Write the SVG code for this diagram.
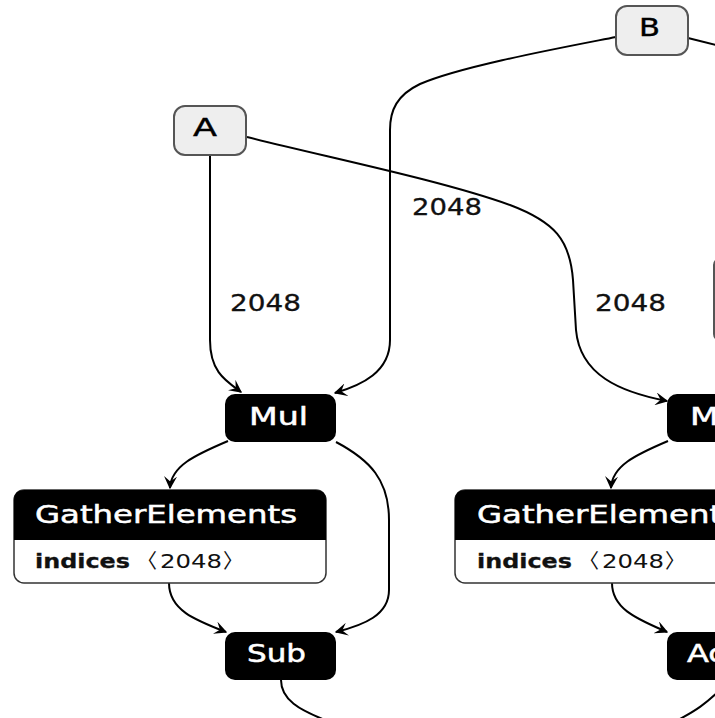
<svg xmlns="http://www.w3.org/2000/svg" width="715" height="718" viewBox="0 0 715 718">
<style>
  .edge { fill: none; stroke: #000; stroke-width: 2; }
  .input { fill: #eeeeee; stroke: #555555; stroke-width: 2; }
  .op { fill: #000000; }
  .title { font-family: "DejaVu Sans", "Noto Sans", sans-serif; font-size: 24px; fill: #ffffff; stroke: #ffffff; stroke-width: 0.5; }
  .ititle { font-family: "DejaVu Sans", "Noto Sans", sans-serif; font-size: 24px; fill: #000000; stroke: #000000; stroke-width: 0.4; }
  .label { font-family: "DejaVu Sans", "Noto Sans", sans-serif; font-size: 23px; fill: #111111; stroke: #111111; stroke-width: 0.3; }
  .attr { font-family: "DejaVu Sans", "Noto Sans", "Noto Sans CJK SC", sans-serif; font-size: 20px; fill: #111111; }
  .body { fill: #ffffff; stroke: #333333; stroke-width: 1.5; }
</style>
<defs>
  <marker id="arrow" viewBox="0 0 10 10" refX="9" refY="5" markerWidth="13" markerHeight="13" markerUnits="userSpaceOnUse" orient="auto">
    <path d="M0,0 L10,5 L0,10 L4,5 z" fill="#000"/>
  </marker>
</defs>
<rect width="715" height="718" fill="#ffffff"/>

<g id="edges">
  <path class="edge" d="M210,155 L210,340 C210,372 226,381 241,392" marker-end="url(#arrow)"/>
  <path class="edge" d="M616,37 C560,48 462,66 420,84 C397,95 390,110 390,130 L390,340 C390,372 362,385 335,393" marker-end="url(#arrow)"/>
  <path class="edge" d="M247,137 C330,158 440,180 510,205 C555,222 570,240 573,280 L576,330 C580,375 620,392 667,401" marker-end="url(#arrow)"/>
  <path class="edge" d="M688,38 L720,46"/>
  <path class="edge" d="M228,441 C195,455 171,466 170,488" marker-end="url(#arrow)"/>
  <path class="edge" d="M336,442 C370,460 389,480 389,520 L389,590 C389,615 364,625 336,632" marker-end="url(#arrow)"/>
  <path class="edge" d="M169,583 C169,610 195,620 226,632" marker-end="url(#arrow)"/>
  <path class="edge" d="M281,680 C281,700 300,710 325,720"/>
  <path class="edge" d="M668,441 C635,455 612,466 611,488" marker-end="url(#arrow)"/>
  <path class="edge" d="M612,583 C612,610 640,620 667,632" marker-end="url(#arrow)"/>
  <path class="edge" d="M722,688 C706,704 695,711 678,720"/>
  <text class="label" x="230" y="311" textLength="71" lengthAdjust="spacingAndGlyphs">2048</text>
  <text class="label" x="412" y="215" textLength="70" lengthAdjust="spacingAndGlyphs">2048</text>
  <text class="label" x="595" y="311" textLength="71" lengthAdjust="spacingAndGlyphs">2048</text>
</g>

<g id="node-A">
  <rect class="input" x="174" y="106" width="72" height="49" rx="11"/>
  <text class="ititle" x="193" y="136" textLength="24" lengthAdjust="spacingAndGlyphs">A</text>
</g>

<g id="node-B">
  <rect class="input" x="616" y="6" width="72" height="49" rx="11"/>
  <text class="ititle" x="639" y="36" textLength="21" lengthAdjust="spacingAndGlyphs">B</text>
</g>

<g id="node-right-box">
  <rect x="714" y="259" width="80" height="81" rx="6" fill="#ffffff" stroke="#555555" stroke-width="2"/>
</g>

<g id="node-Mul-1">
  <rect class="op" x="225" y="394" width="111" height="48" rx="10"/>
  <text class="title" x="249" y="425" textLength="59" lengthAdjust="spacingAndGlyphs">Mul</text>
</g>

<g id="node-Mul-2">
  <rect class="op" x="667" y="394" width="111" height="48" rx="10"/>
  <text class="title" x="690" y="425" textLength="59" lengthAdjust="spacingAndGlyphs">Mul</text>
</g>

<g id="node-GatherElements-1">
  <rect class="body" x="14" y="490" width="312" height="93" rx="10"/>
  <path class="op" d="M14,540 L14,500 Q14,490 24,490 L316,490 Q326,490 326,500 L326,540 Z"/>
  <text class="title" x="35" y="523" textLength="262" lengthAdjust="spacingAndGlyphs">GatherElements</text>
  <text class="attr" y="568"><tspan x="35" font-weight="bold" stroke="#111" stroke-width="0.3" textLength="95" lengthAdjust="spacingAndGlyphs">indices</tspan><tspan x="137">〈</tspan><tspan x="160" textLength="62" lengthAdjust="spacingAndGlyphs">2048</tspan><tspan x="223">〉</tspan></text>
</g>

<g id="node-GatherElements-2">
  <rect class="body" x="455" y="490" width="312" height="93" rx="10"/>
  <path class="op" d="M455,540 L455,500 Q455,490 465,490 L757,490 Q767,490 767,500 L767,540 Z"/>
  <text class="title" x="477" y="523" textLength="262" lengthAdjust="spacingAndGlyphs">GatherElements</text>
  <text class="attr" y="568"><tspan x="477" font-weight="bold" stroke="#111" stroke-width="0.3" textLength="95" lengthAdjust="spacingAndGlyphs">indices</tspan><tspan x="579">〈</tspan><tspan x="602" textLength="62" lengthAdjust="spacingAndGlyphs">2048</tspan><tspan x="665">〉</tspan></text>
</g>

<g id="node-Sub">
  <rect class="op" x="225" y="632" width="111" height="48" rx="10"/>
  <text class="title" x="247" y="662" textLength="59" lengthAdjust="spacingAndGlyphs">Sub</text>
</g>

<g id="node-Add">
  <rect class="op" x="667" y="632" width="111" height="48" rx="10"/>
  <text class="title" x="687" y="662" textLength="62" lengthAdjust="spacingAndGlyphs">Add</text>
</g>
</svg>
